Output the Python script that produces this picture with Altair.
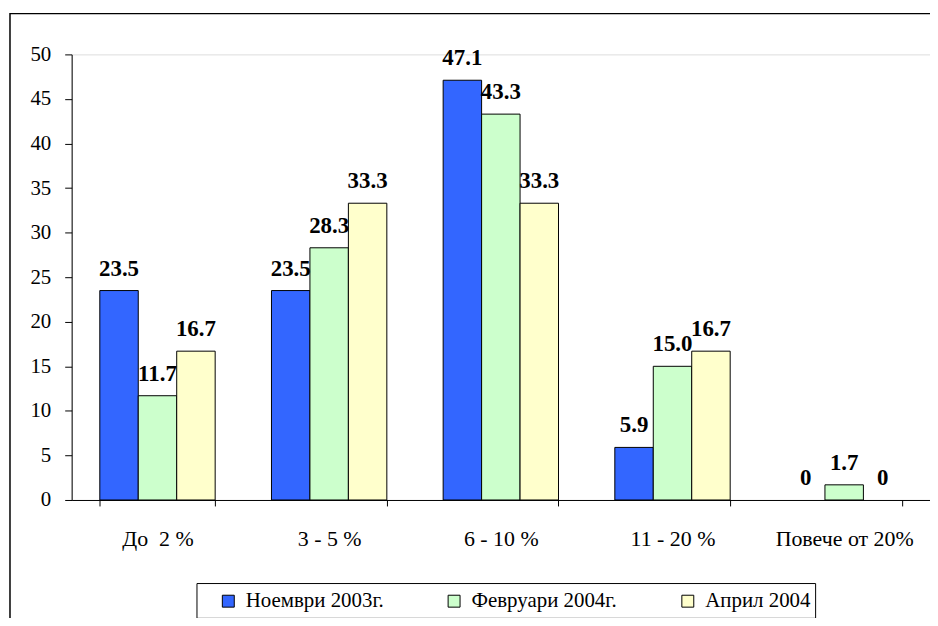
import altair as alt
import pandas as pd

categories = ["До \u00a02 %", "3 - 5 %", "6 - 10 %", "11 - 20 %", "Повече от 20%"]
series = ["Ноември 2003г.", "Февруари 2004г.", "Април 2004"]
nov_2003 = [23.5, 23.5, 47.1, 5.9, 0]
feb_2004 = [11.7, 28.3, 43.3, 15.0, 1.7]
apr_2004 = [16.7, 33.3, 33.3, 16.7, 0]
colors = ["#3366FF", "#CCFFCC", "#FFFFCC"]
y_ticks = [0, 5, 10, 15, 20, 25, 30, 35, 40, 45, 50]

rows = []
for s, vals in zip(series, [nov_2003, feb_2004, apr_2004]):
    for c, v in zip(categories, vals):
        rows.append({"cat": c, "series": s, "value": v,
                     "label": "0" if v == 0 else f"{v:.1f}"})
df = pd.DataFrame(rows)

FONT = "Liberation Serif"
W, H = 863, 448

x = alt.X("cat:N", sort=categories, title=None,
          scale=alt.Scale(paddingInner=0.328, paddingOuter=0.164),
          axis=alt.Axis(labelAngle=0, tickBand="extent", tickSize=6,
                        labelFont=FONT, labelFontSize=22, labelColor="black",
                        labelPadding=23, labelBaseline="top",
                        domainColor="black", tickColor="black"))
xo = alt.XOffset("series:N", sort=series,
                 scale=alt.Scale(paddingInner=0, paddingOuter=0))
y = alt.Y("value:Q", title=None,
          scale=alt.Scale(domain=[0, 50], nice=False, zero=True),
          axis=alt.Axis(values=y_ticks, grid=False, tickSize=7,
                        labelFont=FONT, labelFontSize=21, labelColor="black",
                        labelPadding=14, domainColor="black", tickColor="black"))

base = alt.Chart(df)

frame = alt.Chart(pd.DataFrame({"k": [0]})).mark_rect(
    fill="transparent", stroke="black", strokeWidth=1.5
).encode(x=alt.value(-62), x2=alt.value(1000), y=alt.value(-41), y2=alt.value(1000))

legend_box = alt.Chart(pd.DataFrame({"k": [0]})).mark_rect(
    fill="white", stroke="black", strokeWidth=1
).encode(x=alt.value(126), x2=alt.value(748), y=alt.value(532), y2=alt.value(567))

bars = base.transform_filter("datum.value > 0").mark_bar(
    stroke="black", strokeWidth=1).encode(
    x=x, xOffset=xo, y=y,
    color=alt.Color("series:N", sort=series,
                    scale=alt.Scale(domain=series, range=colors),
                    legend=alt.Legend(orient="none", legendX=147, legendY=539,
                                      direction="horizontal", title=None,
                                      labelFont=FONT, labelFontSize=21,
                                      labelColor="black", labelLimit=300,
                                      symbolType="square", symbolSize=144,
                                      symbolStrokeColor="black",
                                      symbolStrokeWidth=1, symbolOpacity=1,
                                      columnPadding=60, labelOffset=7,
                                      padding=0)),
)

labels = base.mark_text(font=FONT, fontSize=23, fontWeight="bold",
                        color="black", baseline="alphabetic", dy=-15).encode(
    x=x, xOffset=xo, y=y, text="label:N")

chart = alt.layer(frame, legend_box, bars, labels).properties(
    width=W, height=H,
    autosize=alt.AutoSizeParams(type="none"),
    padding={"left": 64, "top": 45, "right": 0, "bottom": 117},
).configure_view(stroke=None).configure(background="white")

chart.save("out.html", embed_options={"renderer": "svg", "actions": False})
